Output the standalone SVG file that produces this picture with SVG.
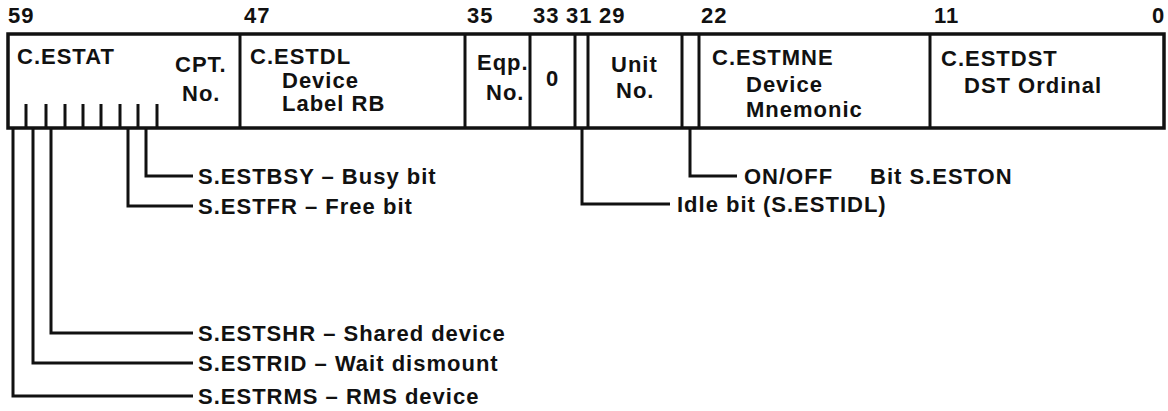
<svg xmlns="http://www.w3.org/2000/svg" width="1168" height="411" viewBox="0 0 1168 411">
<style>
text{font-family:"Liberation Sans",Arial,sans-serif;font-size:22px;font-weight:bold;fill:#111;letter-spacing:1px}
.box{fill:none;stroke:#111;stroke-width:3.5}
.div{stroke:#111;stroke-width:3}
.tick{stroke:#111;stroke-width:3}
.con{fill:none;stroke:#111;stroke-width:3}
</style>
<rect width="1168" height="411" fill="#fff"/>
<g id="bitnumbers">
<text x="8" y="23">59</text>
<text x="244" y="23">47</text>
<text x="467" y="23">35</text>
<text x="533" y="23">33</text>
<text x="566" y="23">31</text>
<text x="599" y="23">29</text>
<text x="701" y="23">22</text>
<text x="934" y="23">11</text>
<text x="1152" y="23">0</text>
</g>
<g id="word">
<rect class="box" x="8" y="34" width="1156" height="94"/>
</g>
<g id="field-estat">
<line class="div" x1="240" y1="34" x2="240" y2="128"/>
<text x="17" y="64">C.ESTAT</text>
<text x="175" y="72">CPT.</text>
<text x="182" y="101">No.</text>
<line class="tick" x1="26" y1="104" x2="26" y2="128"/>
<line class="tick" x1="46" y1="104" x2="46" y2="128"/>
<line class="tick" x1="65" y1="104" x2="65" y2="128"/>
<line class="tick" x1="83" y1="104" x2="83" y2="128"/>
<line class="tick" x1="101" y1="104" x2="101" y2="128"/>
<line class="tick" x1="120" y1="104" x2="120" y2="128"/>
<line class="tick" x1="138" y1="104" x2="138" y2="128"/>
<line class="tick" x1="157" y1="104" x2="157" y2="128"/>
</g>
<g id="field-estdl">
<line class="div" x1="465" y1="34" x2="465" y2="128"/>
<text x="250" y="64">C.ESTDL</text>
<text x="282" y="88">Device</text>
<text x="282" y="111">Label RB</text>
</g>
<g id="field-eqp">
<line class="div" x1="530" y1="34" x2="530" y2="128"/>
<text x="477" y="70">Eqp.</text>
<text x="486" y="100">No.</text>
</g>
<g id="field-zero">
<line class="div" x1="575" y1="34" x2="575" y2="128"/>
<text x="546" y="86">0</text>
</g>
<g id="field-idle">
<line class="div" x1="588" y1="34" x2="588" y2="128"/>
</g>
<g id="field-unit">
<line class="div" x1="682" y1="34" x2="682" y2="128"/>
<text x="611" y="72">Unit</text>
<text x="616" y="98">No.</text>
</g>
<g id="field-on">
<line class="div" x1="699" y1="34" x2="699" y2="128"/>
</g>
<g id="field-estmne">
<line class="div" x1="930" y1="34" x2="930" y2="128"/>
<text x="712" y="65">C.ESTMNE</text>
<text x="746" y="92">Device</text>
<text x="746" y="117">Mnemonic</text>
</g>
<g id="field-estdst">
<text x="941" y="66">C.ESTDST</text>
<text x="964" y="93">DST Ordinal</text>
</g>
<g id="connectors">
<polyline class="con" points="146,128 146,176 193,176"/>
<polyline class="con" points="128,128 128,206 193,206"/>
<polyline class="con" points="51,128 51,333 193,333"/>
<polyline class="con" points="33,128 33,363 193,363"/>
<polyline class="con" points="13,128 13,396 193,396"/>
<polyline class="con" points="582,128 582,204 670,204"/>
<polyline class="con" points="690,128 690,176 737,176"/>
</g>
<g id="labels">
<text x="198" y="184">S.ESTBSY – Busy bit</text>
<text x="198" y="214">S.ESTFR – Free bit</text>
<text x="198" y="341">S.ESTSHR – Shared device</text>
<text x="198" y="371">S.ESTRID – Wait dismount</text>
<text x="198" y="404">S.ESTRMS – RMS device</text>
<text x="744" y="184">ON/OFF<tspan x="870">Bit S.ESTON</tspan></text>
<text x="677" y="212">Idle bit (S.ESTIDL)</text>
</g>
</svg>
